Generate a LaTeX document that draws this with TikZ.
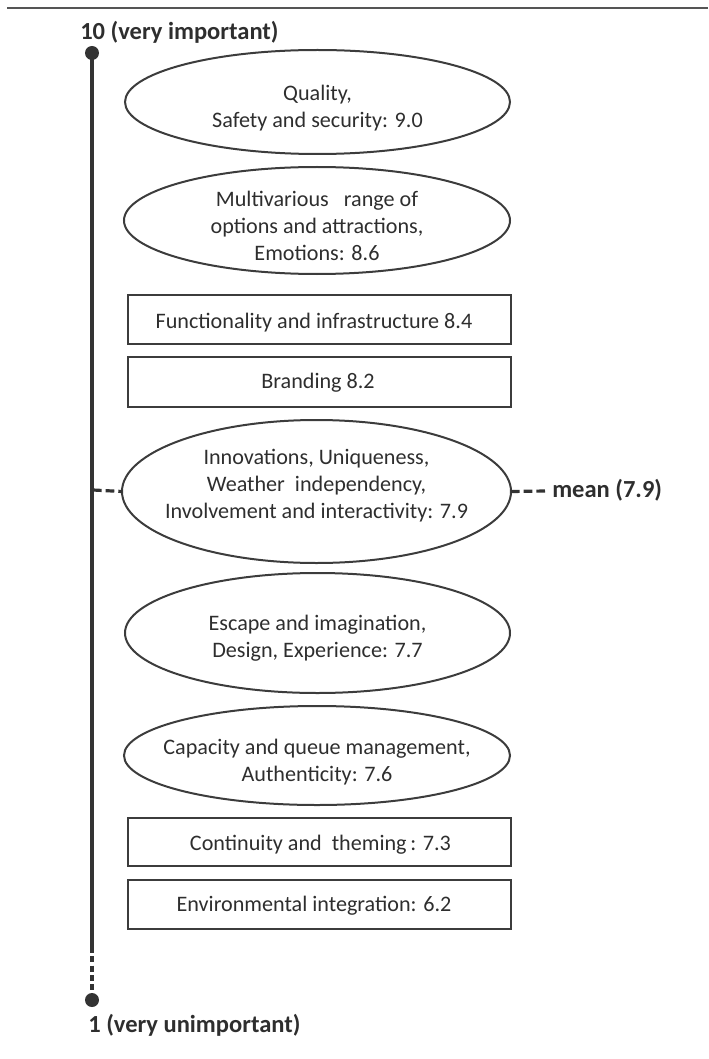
\documentclass[tikz,border=0pt]{standalone}
\usepackage{fontspec}
\setmainfont{Carlito}
\usetikzlibrary{shapes.geometric}
\definecolor{txt}{HTML}{2E2E2E}
\definecolor{edge}{HTML}{3C3C3C}
\definecolor{axis}{HTML}{333333}
\definecolor{rule}{HTML}{555555}
\begin{document}
\begin{tikzpicture}[x=0.75pt,y=-0.75pt,
  ell/.style={draw=edge,line width=1.5pt,shape=ellipse,inner sep=0pt,outer sep=0pt},
  box/.style={draw=edge,line width=1.8pt,shape=rectangle,inner sep=0pt,outer sep=0pt},
  lbl/.style={text=txt,align=center,inner sep=0pt,font={\fontsize{16.6}{20.25}\selectfont}},
  endlbl/.style={text=txt,anchor=west,inner sep=0pt,font={\fontsize{18.4}{20}\selectfont\bfseries}},
  axisline/.style={draw=axis,line width=3pt},
  meandash/.style={draw=axis,line width=2.4pt,dash pattern=on 6.5pt off 3pt},
  enddot/.style={circle,fill=axis,inner sep=0pt,minimum size=10.5pt}]
\useasboundingbox (0,0) rectangle (708,1059);
% top rule
\coordinate (r1) at (7,8);
\coordinate (r2) at (708,8);
\draw[rule,line width=1.5pt] (r1) -- (r2);
% axis
\node[enddot] (top) at (92,53) {};
\node[enddot] (bot) at (92,1000) {};
\coordinate (solidend) at (92,947);
\draw[axisline] (top.center) -- (solidend);
\draw[axisline,dash pattern=on 4.5pt off 2.5pt] (solidend) -- (bot.center);
\node[endlbl] (toplbl) at (80,32) {10 (very important)};
\node[endlbl] (botlbl) at (88,1025) {1 (very unimportant)};
% shapes
\node[ell,minimum width={385*0.75pt},minimum height={104*0.75pt}] (e1) at (317.5,102) {};
\node[ell,minimum width={386*0.75pt},minimum height={107*0.75pt}] (e2) at (317,220.5) {};
\node[box,minimum width={383*0.75pt},minimum height={49*0.75pt}] (b1) at (319.5,319.5) {};
\node[box,minimum width={383*0.75pt},minimum height={50*0.75pt}] (b2) at (319.5,382) {};
\node[ell,minimum width={389*0.75pt},minimum height={143*0.75pt}] (e3) at (316.5,491.5) {};
\node[ell,minimum width={385*0.75pt},minimum height={120*0.75pt}] (e4) at (317.5,633) {};
\node[ell,minimum width={386*0.75pt},minimum height={99*0.75pt}] (e5) at (317,755.5) {};
\node[box,minimum width={383*0.75pt},minimum height={48*0.75pt}] (b3) at (319.5,842) {};
\node[box,minimum width={383*0.75pt},minimum height={49*0.75pt}] (b4) at (319.5,904.5) {};
% texts
\node[lbl] (t1) at (317.5,108) {Quality,\\Safety and security: 9.0};
\node[lbl] (t2) at (317,226) {Multivarious \ \ range of\\options and attractions,\\Emotions: 8.6};
\node[lbl] (t3) at (314,323) {Functionality and infrastructure 8.4};
\node[lbl] (t4) at (318,383) {Branding 8.2};
\node[lbl] (t5) at (316.5,485.5) {Innovations, Uniqueness,\\Weather \ independency,\\Involvement and interactivity: 7.9};
\node[lbl] (t6) at (317.5,638) {Escape and imagination,\\Design, Experience: 7.7};
\node[lbl] (t7) at (317,762) {Capacity and queue management,\\Authenticity: 7.6};
\node[lbl] (t8) at (320.5,845) {Continuity and \ theming\,: 7.3};
\node[lbl] (t9) at (314,906) {Environmental integration: 6.2};
% mean
\coordinate (ml) at (93,490);
\coordinate (mr) at (546,491);
\draw[meandash] (ml) -- (e3.west);
\draw[meandash] (e3.east) -- (mr);
\node[endlbl] (meanlbl) at (552,490) {mean (7.9)};
\end{tikzpicture}
\end{document}
